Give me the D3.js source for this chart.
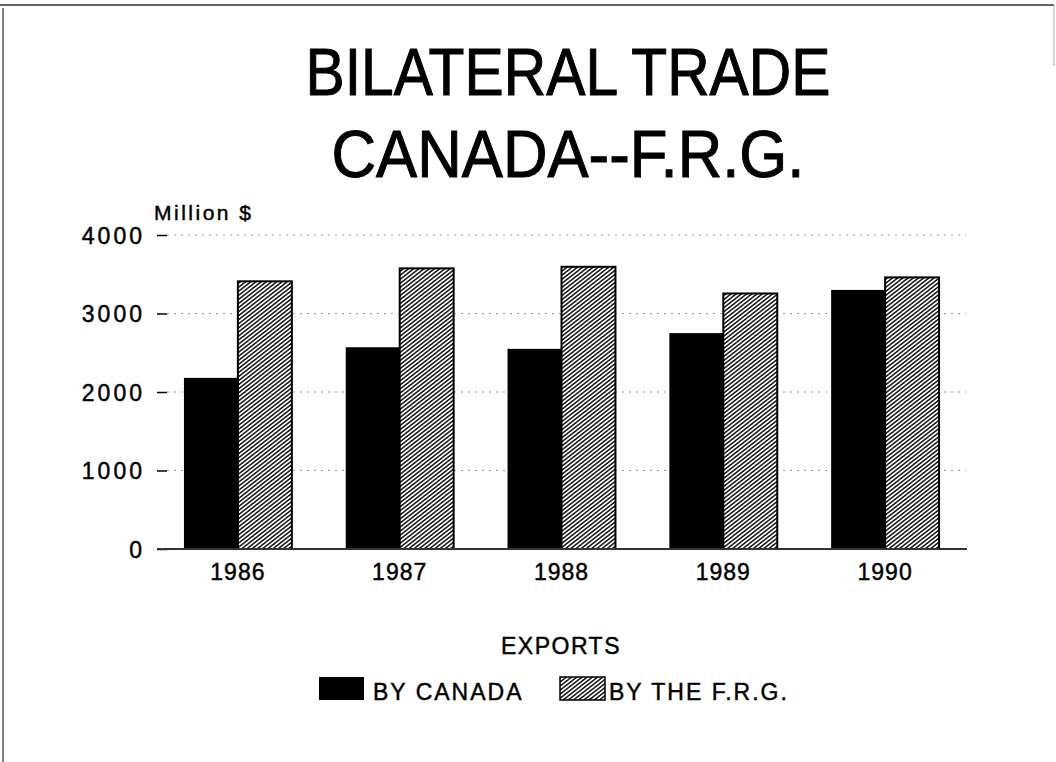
<!DOCTYPE html>
<html>
<head>
<meta charset="utf-8">
<script src="https://cdn.jsdelivr.net/npm/d3@7"></script>
<style>
  body { margin: 0; background: #fff; }
  text { font-family: "Liberation Sans", Arial, sans-serif; fill: #000; stroke: #000; stroke-width: 0.45px; }
</style>
</head>
<body>
<div id="chart"></div>
<script>
const years = ["1986", "1987", "1988", "1989", "1990"];
const byCanada = [2180, 2570, 2550, 2750, 3300];
const byFRG = [3410, 3575, 3595, 3255, 3460];
const yTicks = [0, 1000, 2000, 3000, 4000];
const seriesNames = ["BY CANADA", "BY THE F.R.G."];
const titleLines = ["BILATERAL TRADE", "CANADA--F.R.G."];

const W = 1056, H = 762;

const svg = d3.select("#chart")
    .append("svg")
    .attr("width", W)
    .attr("height", H);

// hatch pattern for the F.R.G. bars
const defs = svg.append("defs");
const pat = defs.append("pattern")
    .attr("id", "hatch")
    .attr("patternUnits", "userSpaceOnUse")
    .attr("width", 3.2)
    .attr("height", 3.2)
    .attr("patternTransform", "rotate(-38)");
pat.append("rect").attr("width", 3.2).attr("height", 3.2).attr("fill", "#fff");
pat.append("line")
    .attr("x1", 0).attr("y1", 0.8).attr("x2", 3.2).attr("y2", 0.8)
    .attr("stroke", "#000").attr("stroke-width", 1.4);

// page frame
svg.append("line").attr("x1", 0).attr("x2", 1054).attr("y1", 5).attr("y2", 5)
    .attr("stroke", "#333").attr("stroke-width", 1.5);
svg.append("line").attr("x1", 3).attr("x2", 3).attr("y1", 8).attr("y2", H)
    .attr("stroke", "#555").attr("stroke-width", 1.5);
svg.append("line").attr("x1", 1054).attr("x2", 1054).attr("y1", 5).attr("y2", 66)
    .attr("stroke", "#aaa").attr("stroke-width", 1);

// title
svg.selectAll(".title")
    .data(titleLines)
    .enter().append("text")
    .attr("class", "title")
    .attr("x", 568)
    .attr("y", (d, i) => 95 + i * 82)
    .attr("text-anchor", "middle")
    .attr("textLength", (d, i) => i === 0 ? 525 : 473)
    .attr("lengthAdjust", "spacingAndGlyphs")
    .style("font-size", "66px")
    .style("stroke-width", "1px")
    .text(d => d);

const x = d3.scaleBand()
    .domain(years)
    .range([157, 966])
    .paddingInner(0.333)
    .paddingOuter(0.1665);

const y = d3.scaleLinear()
    .domain([0, 4000])
    .range([549, 235]);

// grid + ticks
const yAxis = svg.append("g")
    .attr("transform", "translate(167,0)")
    .call(d3.axisLeft(y).tickValues(yTicks).tickSize(10).tickPadding(12).tickFormat(d3.format("d")));
yAxis.select(".domain").remove();
yAxis.selectAll(".tick line").attr("stroke", "#000").attr("stroke-width", 1.5);
yAxis.selectAll(".tick text")
    .style("font-size", "23px")
    .style("letter-spacing", "3px")
    .attr("dy", "0.36em");

svg.append("g")
    .selectAll("line")
    .data(yTicks.filter(d => d > 0))
    .enter().append("line")
    .attr("x1", 167).attr("x2", 966)
    .attr("y1", d => y(d)).attr("y2", d => y(d))
    .attr("stroke", "#999")
    .attr("stroke-width", 1)
    .attr("stroke-dasharray", "2,5");

const xSub = d3.scaleBand()
    .domain([0, 1])
    .range([0, x.bandwidth()]);

const groups = svg.append("g")
    .selectAll("g")
    .data(years)
    .enter().append("g")
    .attr("transform", d => `translate(${x(d)},0)`);

groups.append("rect")
    .attr("x", xSub(0))
    .attr("width", xSub.bandwidth())
    .attr("y", (d, i) => y(byCanada[i]))
    .attr("height", (d, i) => y(0) - y(byCanada[i]))
    .attr("fill", "#000");

groups.append("rect")
    .attr("x", xSub(1))
    .attr("width", xSub.bandwidth())
    .attr("y", (d, i) => y(byFRG[i]))
    .attr("height", (d, i) => y(0) - y(byFRG[i]))
    .attr("fill", "url(#hatch)")
    .attr("stroke", "#000")
    .attr("stroke-width", 2);

// baseline + year labels
const xAxis = svg.append("g")
    .attr("transform", `translate(0,${y(0)})`)
    .call(d3.axisBottom(x).tickSize(0).tickPadding(15));
xAxis.select(".domain")
    .attr("d", "M157,0H967")
    .attr("stroke", "#333")
    .attr("stroke-width", 2);
xAxis.selectAll(".tick text")
    .style("font-size", "23px")
    .style("letter-spacing", "1px")
    .attr("dy", "0.71em");

// axis unit
svg.append("text")
    .attr("x", 154)
    .attr("y", 220)
    .style("font-size", "21px")
    .style("letter-spacing", "2.5px")
    .text("Million $");

// legend
svg.append("text")
    .attr("x", 561)
    .attr("y", 654)
    .attr("text-anchor", "middle")
    .style("font-size", "23px")
    .style("letter-spacing", "1.5px")
    .text("EXPORTS");

const legendX = [319, 560];
const legend = svg.append("g")
    .selectAll("g")
    .data(seriesNames)
    .enter().append("g")
    .attr("transform", (d, i) => `translate(${legendX[i]},677)`);

legend.append("rect")
    .attr("width", 45)
    .attr("height", 23)
    .attr("fill", (d, i) => i === 0 ? "#000" : "url(#hatch)")
    .attr("stroke", "#000")
    .attr("stroke-width", (d, i) => i === 0 ? 0 : 1.5);

legend.append("text")
    .attr("x", (d, i) => i === 0 ? 54 : 49)
    .attr("y", 23)
    .style("font-size", "23px")
    .style("letter-spacing", "2px")
    .text(d => d);
</script>
</body>
</html>
